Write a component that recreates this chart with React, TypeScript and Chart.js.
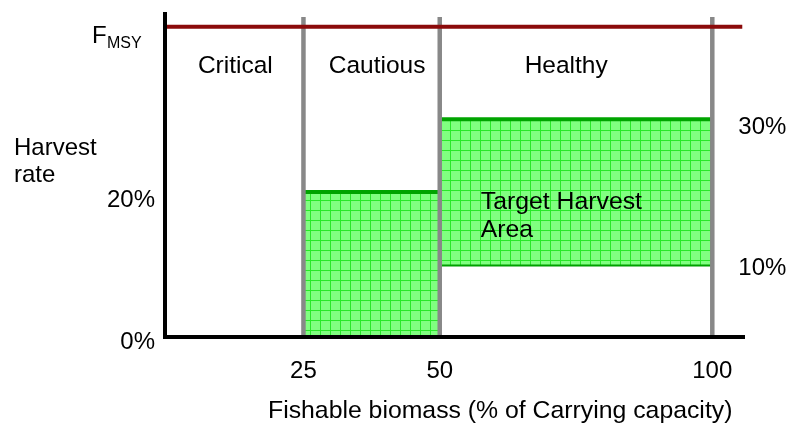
import React, { useEffect, useRef } from "react";
import { Chart, registerables } from "chart.js";

Chart.register(...registerables);

// ---- data ----
const ZONE_BOUNDARIES = [25, 50, 100];
const ZONE_NAMES = ["Critical", "Cautious", "Healthy"];
const ZONE_LABEL_X = [12.5, 38.5, 73.2];
const ZONE_LABEL_Y = 36.4;
const X_TICKS = [25, 50, 100];
const X_TICK_LABELS = ["25", "50", "100"];
const LEFT_TICKS = [0, 20];
const LEFT_TICK_LABELS = ["0%", "20%"];
const RIGHT_TICKS = [30, 10];
const RIGHT_TICK_LABELS = ["30%", "10%"];
const FMSY = 42.75;
const CAUTIOUS_X = [25, 50];
const CAUTIOUS_RATE = [0, 20]; // low, high
const HEALTHY_X = [50, 100];
const HEALTHY_RATE = [10, 30]; // low, high
const X_MIN = -0.4;
const X_MAX = 106;
const Y_MAX = 44.8;
const GRAY_TOP = 44.1;
const FMSY_END = 105.5;

const FONT = '"Liberation Sans", Arial, sans-serif';

function makePattern(): CanvasPattern | string {
  const c = document.createElement("canvas");
  c.width = 10;
  c.height = 10;
  const g = c.getContext("2d");
  if (!g) return "#80ff80";
  g.fillStyle = "#80ff80";
  g.fillRect(0, 0, 10, 10);
  g.fillStyle = "#28e828";
  g.fillRect(0, 0, 1, 10);
  g.fillRect(0, 0, 10, 1);
  const p = g.createPattern(c, "repeat");
  return p || "#80ff80";
}

const textPlugin = {
  id: "hcrText",
  afterDraw(chart: any) {
    const ctx = chart.ctx as CanvasRenderingContext2D;
    const xs = chart.scales.x;
    const ys = chart.scales.y;
    const ca = chart.chartArea;
    ctx.save();
    // axes
    ctx.strokeStyle = "#000";
    ctx.lineWidth = 4;
    ctx.beginPath();
    ctx.moveTo(ca.left, ca.top);
    ctx.lineTo(ca.left, ys.getPixelForValue(0) + 2);
    ctx.stroke();
    ctx.beginPath();
    ctx.moveTo(ca.left - 2, ys.getPixelForValue(0));
    ctx.lineTo(ca.right, ys.getPixelForValue(0));
    ctx.stroke();

    ctx.fillStyle = "#000";
    ctx.font = `24.5px ${FONT}`;
    ctx.textBaseline = "alphabetic";
    // zone labels
    ctx.textAlign = "center";
    ZONE_NAMES.forEach((n, i) => {
      ctx.fillText(n, xs.getPixelForValue(ZONE_LABEL_X[i]), ys.getPixelForValue(ZONE_LABEL_Y));
    });
    // x ticks
    ctx.font = `24px ${FONT}`;
    X_TICKS.forEach((v, i) => {
      ctx.fillText(X_TICK_LABELS[i], xs.getPixelForValue(v), ys.getPixelForValue(0) + 41);
    });
    // axis title
    ctx.font = `24.8px ${FONT}`;
    ctx.textAlign = "left";
    ctx.fillText("Fishable biomass (% of Carrying capacity)", 268, 418);
    // left ticks
    ctx.font = `24px ${FONT}`;
    ctx.textAlign = "right";
    LEFT_TICKS.forEach((v, i) => {
      ctx.fillText(LEFT_TICK_LABELS[i], ca.left - 10, ys.getPixelForValue(v) + (v === 0 ? 12 : 15));
    });
    // right ticks
    ctx.textAlign = "left";
    RIGHT_TICKS.forEach((v, i) => {
      ctx.fillText(RIGHT_TICK_LABELS[i], xs.getPixelForValue(100) + 26, ys.getPixelForValue(v) + (v === 10 ? 11 : 15));
    });
    // y title
    ctx.fillText("Harvest", 14, 155);
    ctx.fillText("rate", 14, 182);
    // F_MSY
    const fy = ys.getPixelForValue(FMSY);
    ctx.fillText("F", 92, fy + 16);
    ctx.font = `16px ${FONT}`;
    ctx.fillText("MSY", 107, fy + 21);
    // target area label
    ctx.font = `24.8px ${FONT}`;
    ctx.fillText("Target Harvest", xs.getPixelForValue(HEALTHY_X[0]) + 41, ys.getPixelForValue(HEALTHY_RATE[1]) + 90);
    ctx.fillText("Area", xs.getPixelForValue(HEALTHY_X[0]) + 41, ys.getPixelForValue(HEALTHY_RATE[1]) + 118);
    ctx.restore();
  },
};

export default function App() {
  const ref = useRef<HTMLCanvasElement | null>(null);
  useEffect(() => {
    if (!ref.current) return;
    const pattern = makePattern();
    const line = (pts: { x: number; y: number }[], color: string, width: number, order: number, extra: any = {}) => ({
      type: "line",
      data: pts,
      borderColor: color,
      borderWidth: width,
      pointRadius: 0,
      showLine: true,
      fill: false,
      order,
      ...extra,
    });
    const datasets: any[] = [
      // cautious box (top then bottom)
      line(
        CAUTIOUS_X.map((x) => ({ x, y: CAUTIOUS_RATE[1] })),
        "#00a400",
        4,
        3,
        { fill: { target: "+1", above: pattern, below: pattern }, backgroundColor: pattern }
      ),
      line(CAUTIOUS_X.map((x) => ({ x, y: CAUTIOUS_RATE[0] })), "rgba(0,0,0,0)", 0, 3),
      // healthy box
      line(
        HEALTHY_X.map((x) => ({ x, y: HEALTHY_RATE[1] })),
        "#00a400",
        4,
        3,
        { fill: { target: "+1", above: pattern, below: pattern }, backgroundColor: pattern }
      ),
      line(HEALTHY_X.map((x) => ({ x, y: HEALTHY_RATE[0] })), "#00a000", 4, 3),
      // zone boundaries
      ...ZONE_BOUNDARIES.map((b) =>
        line(
          [
            { x: b, y: 0 },
            { x: b, y: GRAY_TOP },
          ],
          "#888888",
          4.5,
          2
        )
      ),
      // F_MSY
      line(
        [
          { x: X_MIN, y: FMSY },
          { x: FMSY_END, y: FMSY },
        ],
        "#8b0a0a",
        4,
        1
      ),
    ];
    const chart = new Chart(ref.current, {
      type: "scatter",
      data: { datasets },
      options: {
        responsive: false,
        animation: false,
        layout: { padding: { left: 165, right: 43, top: 12, bottom: 91 } },
        plugins: { legend: { display: false }, tooltip: { enabled: false } },
        scales: {
          x: { type: "linear", min: X_MIN, max: X_MAX, display: false },
          y: { type: "linear", min: 0, max: Y_MAX, display: false },
        },
      },
      plugins: [textPlugin],
    } as any);
    return () => chart.destroy();
  }, []);
  return (
    <div style={{ position: "fixed", left: 0, top: 0, width: 788, height: 428, background: "#fff" }}>
      <canvas ref={ref} width={788} height={428} style={{ width: 788, height: 428, display: "block" }} />
    </div>
  );
}
